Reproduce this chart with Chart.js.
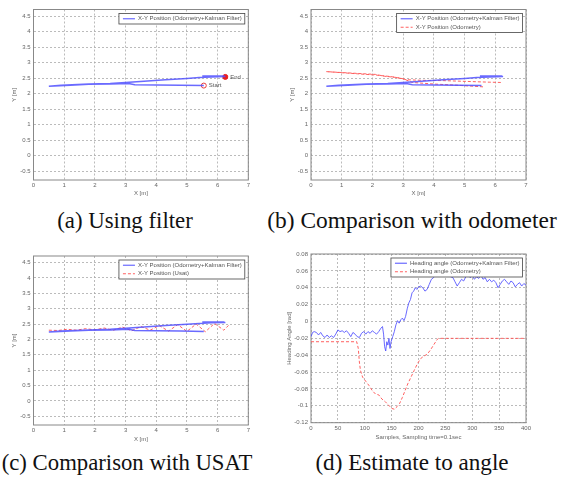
<!DOCTYPE html>
<html>
<head>
<meta charset="utf-8">
<script src="https://cdn.jsdelivr.net/npm/chart.js@4.4.1/dist/chart.umd.min.js"></script>
<style>
  body { margin: 0; background: #fff; width: 562px; height: 484px; position: relative; overflow: hidden; }
  .panel { position: absolute; }
  .cap { position: absolute; font-family: "Liberation Serif", "DejaVu Serif", serif; font-size: 23px; line-height: 23px;
         color: #111; white-space: nowrap; transform: translateX(-50%); }
</style>
</head>
<body>
<div class="panel" style="left:0;top:0;width:262px;height:200px"><canvas id="chartA"></canvas></div>
<div class="panel" style="left:278px;top:0;width:262px;height:200px"><canvas id="chartB"></canvas></div>
<div class="panel" style="left:0;top:246px;width:262px;height:200px"><canvas id="chartC"></canvas></div>
<div class="panel" style="left:278px;top:244px;width:262px;height:200px"><canvas id="chartD"></canvas></div>

<div class="cap" data-w="136" style="left:125px;top:209px">(a) Using filter</div>
<div class="cap" data-w="289" style="left:412px;top:209px">(b) Comparison with odometer</div>
<div class="cap" data-w="251" style="left:127px;top:451px">(c) Comparison with USAT</div>
<div class="cap" data-w="193" style="left:412px;top:451px">(d) Estimate to angle</div>

<script>
// X-Y track, odometry + Kalman filter
const filtX = [5.55, 4.8, 4.0, 3.3, 3.1, 2.5, 1.8, 1.2, 0.5, 0.9, 1.8, 2.5, 3.0, 3.6, 4.3, 5.0, 5.4, 5.8, 6.25, 5.5, 6.2, 6.25];
const filtY = [2.26, 2.27, 2.28, 2.29, 2.33, 2.31, 2.30, 2.27, 2.24, 2.27, 2.31, 2.33, 2.36, 2.40, 2.45, 2.49, 2.52, 2.54, 2.55, 2.57, 2.57, 2.54];

// X-Y track, odometry only
const odoX = [5.6, 4.8, 4.0, 3.3, 3.0, 2.6, 2.1, 1.5, 0.5, 1.0, 2.1, 2.4, 2.8, 3.1, 3.6, 4.3, 5.2, 5.8, 6.2];
const odoY = [2.22, 2.27, 2.31, 2.36, 2.48, 2.55, 2.60, 2.64, 2.71, 2.68, 2.62, 2.56, 2.52, 2.45, 2.43, 2.42, 2.39, 2.37, 2.36];

// X-Y track, USAT
const usatX = [0.5, 0.8, 1.1, 1.4, 1.7, 2.0, 2.3, 2.6, 2.9, 3.2, 3.5, 3.8, 4.1, 4.4, 4.7, 5.0, 5.3, 5.6, 5.9, 6.2, 6.4];
const usatY = [2.30, 2.29, 2.33, 2.30, 2.35, 2.31, 2.37, 2.30, 2.40, 2.28, 2.42, 2.30, 2.45, 2.27, 2.48, 2.26, 2.50, 2.25, 2.52, 2.30, 2.50];

const startPt = [5.55, 2.26];
const endPt = [6.25, 2.54];

const posXTicks = [0, 1, 2, 3, 4, 5, 6, 7];
const posYTicks = [-0.5, 0, 0.5, 1, 1.5, 2, 2.5, 3, 3.5, 4, 4.5];

// heading angle vs sample
const headFiltX = [0, 3, 6, 10, 14, 18, 22, 26, 30, 34, 38, 42, 46, 50, 54, 58, 62, 66, 70, 74, 78, 82, 86, 90, 94, 98,
  102, 106, 110, 114, 118, 122, 126, 130, 133, 135, 137, 139, 141, 143, 145, 147, 149, 152, 155, 158, 161, 164, 167, 170,
  173, 176, 179, 182, 185, 188, 191, 194, 197, 200, 204, 208, 212, 216, 220, 224, 228, 232, 236, 240, 244, 248, 252, 256,
  260, 264, 268, 272, 276, 280, 284, 288, 292, 296, 300, 304, 308, 312, 316, 320, 324, 328, 332, 336, 340, 344, 348, 352,
  356, 360, 364, 368, 372, 376, 380, 384, 388, 392, 396, 400];
const headFiltY = [-0.018, -0.013, -0.012, -0.013, -0.016, -0.013, -0.017, -0.019, -0.016, -0.019, -0.017, -0.019, -0.015,
  -0.010, -0.012, -0.011, -0.013, -0.011, -0.014, -0.018, -0.013, -0.015, -0.018, -0.019, -0.014, -0.012,
  -0.015, -0.012, -0.014, -0.011, -0.013, -0.015, -0.012, -0.008, -0.006, -0.015, -0.030, -0.035, -0.024, -0.028,
  -0.020, -0.032, -0.024, -0.018, -0.012, -0.004, 0.001, -0.002, 0.002, 0.004,
  0.001, 0.006, 0.015, 0.022, 0.026, 0.034, 0.036, 0.040, 0.038, 0.041, 0.042, 0.040, 0.036, 0.038, 0.044, 0.050, 0.052,
  0.056, 0.059, 0.057, 0.058, 0.056, 0.057, 0.055, 0.053, 0.052, 0.047, 0.042, 0.046, 0.050, 0.048, 0.053, 0.055, 0.052,
  0.054, 0.050, 0.053, 0.051, 0.055, 0.050, 0.052, 0.047, 0.050, 0.047, 0.049, 0.046, 0.040, 0.044, 0.048, 0.050, 0.047,
  0.044, 0.048, 0.046, 0.041, 0.044, 0.046, 0.042, 0.045, 0.043];

const headOdoX = [0, 85, 88, 90, 92, 96, 102, 108, 114, 120, 126, 132, 138, 144, 150, 155, 160, 165, 170, 175, 180, 186,
  192, 198, 204, 210, 216, 222, 228, 234, 237, 400];
const headOdoY = [-0.024, -0.024, -0.032, -0.048, -0.058, -0.066, -0.071, -0.076, -0.082, -0.086, -0.087, -0.092, -0.095,
  -0.099, -0.103, -0.104, -0.101, -0.097, -0.090, -0.082, -0.074, -0.066, -0.058, -0.050, -0.044, -0.041, -0.039,
  -0.034, -0.028, -0.022, -0.020, -0.020];

const headXTicks = [0, 50, 100, 150, 200, 250, 300, 350, 400];
const headYTicks = [-0.12, -0.1, -0.08, -0.06, -0.04, -0.02, 0, 0.02, 0.04, 0.06, 0.08];

const pts = (xs, ys) => xs.map((x, i) => ({x: x, y: ys[i]}));

const tickFont = {family: 'Liberation Sans', size: 6};
const blue = 'rgba(80,80,255,0.85)';
const red = 'rgba(255,80,80,0.9)';

// box round the plot area
const framePlugin = {
  id: 'frame',
  beforeDatasetsDraw(chart) {
    const a = chart.chartArea, c = chart.ctx;
    c.save();
    c.strokeStyle = '#888';
    c.lineWidth = 1;
    c.strokeRect(a.left, a.top, a.right - a.left, a.bottom - a.top);
    c.restore();
  }
};

// legend drawn inside the plot, top right, like matlab
const boxLegendPlugin = {
  id: 'boxLegend',
  afterDraw(chart) {
    const a = chart.chartArea, c = chart.ctx;
    const items = chart.data.datasets.filter(d => d.inLegend);
    c.save();
    c.font = '6px "Liberation Sans"';
    let tw = 0;
    items.forEach(d => { tw = Math.max(tw, c.measureText(d.label).width); });
    const rowH = 8.5;
    const w = tw + 22, h = items.length * rowH + 2;
    const x0 = a.right - 3.5 - w, y0 = a.top + 4;
    c.fillStyle = '#fff';
    c.fillRect(x0, y0, w, h);
    c.strokeStyle = '#444';
    c.lineWidth = 0.8;
    c.strokeRect(x0, y0, w, h);
    items.forEach((d, i) => {
      const yy = y0 + 1 + rowH * (i + 0.5);
      c.strokeStyle = d.borderColor;
      c.lineWidth = 1.2;
      c.setLineDash(d.borderDash || []);
      c.beginPath();
      c.moveTo(x0 + 4, yy);
      c.lineTo(x0 + 16, yy);
      c.stroke();
      c.setLineDash([]);
      c.fillStyle = '#555';
      c.textBaseline = 'middle';
      c.fillText(d.label, x0 + 19, yy);
    });
    c.restore();
  }
};

// "Start" / "End" labels next to the markers
const tagPlugin = {
  id: 'tags',
  afterDatasetsDraw(chart) {
    const c = chart.ctx;
    c.save();
    c.font = '6px "Liberation Sans"';
    c.fillStyle = '#555';
    c.textBaseline = 'middle';
    chart.data.datasets.forEach((d, i) => {
      if (!d.tag) return;
      const p = chart.getDatasetMeta(i).data[0];
      c.fillText(d.tag, p.x + 5, p.y);
    });
    c.restore();
  }
};

function makeChart(id, datasets, ax) {
  return new Chart(document.getElementById(id), {
    type: 'line',
    data: {datasets: datasets},
    options: {
      responsive: true,
      maintainAspectRatio: false,
      animation: false,
      events: [],
      layout: {padding: {top: ax.padTop, right: ax.padRight, left: 0, bottom: 0}},
      plugins: {legend: {display: false}, tooltip: {enabled: false}},
      elements: {point: {radius: 0}, line: {tension: 0}},
      scales: {
        x: {
          type: 'linear', min: ax.xMin, max: ax.xMax,
          afterBuildTicks: s => { s.ticks = ax.xTicks.map(v => ({value: v})); },
          afterFit: s => { s.height = ax.xHeight; },
          ticks: {font: tickFont, color: '#666', padding: 2, maxRotation: 0},
          grid: {color: '#aaa', lineWidth: 0.8, drawTicks: false},
          border: {display: false, dash: [2, 2]},
          title: {display: true, text: ax.xTitle, font: tickFont, color: '#666', padding: 3}
        },
        y: {
          type: 'linear', min: ax.yMin, max: ax.yMax,
          afterBuildTicks: s => { s.ticks = ax.yTicks.map(v => ({value: v})); },
          afterFit: s => { s.width = ax.yWidth; },
          ticks: {font: tickFont, color: '#666', padding: 3, callback: v => String(+v.toFixed(3))},
          grid: {color: '#aaa', lineWidth: 0.8, drawTicks: false},
          border: {display: false, dash: [2, 2]},
          title: {display: true, text: ax.yTitle, font: tickFont, color: '#666', padding: ax.yTitlePad}
        }
      }
    },
    plugins: [framePlugin, tagPlugin, boxLegendPlugin]
  });
}

const filtLabel = 'X-Y Position (Odometry+Kalman Filter)';
const filtLine = () => ({label: filtLabel, data: pts(filtX, filtY), borderColor: blue, borderWidth: 1.5, inLegend: true});
const markers = () => [
  {label: 'End', tag: 'End', data: [{x: endPt[0], y: endPt[1]}], showLine: false,
   pointRadius: 2.5, pointBackgroundColor: 'rgb(235,30,30)', pointBorderColor: 'rgb(235,30,30)'},
  {label: 'Start', tag: 'Start', data: [{x: startPt[0], y: startPt[1]}], showLine: false,
   pointRadius: 2.5, pointBackgroundColor: '#fff', pointBorderColor: 'rgb(235,60,60)', pointBorderWidth: 1}
];

const posAxes = (padTop, padRight, yWidth, xHeight) => ({
  xMin: 0, xMax: 7, xTicks: posXTicks, yMin: -0.78, yMax: 4.71, yTicks: posYTicks,
  xTitle: 'X [m]', yTitle: 'Y [m]', padTop, padRight, yWidth, xHeight, yTitlePad: 11
});

makeChart('chartA', [filtLine(), ...markers()], posAxes(9.5, 13.7, 33.5, 20));

makeChart('chartB', [
  filtLine(),
  {label: 'X-Y Position (Odometry)', data: pts(odoX, odoY), borderColor: red, borderWidth: 1, borderDash: [3, 2], inLegend: true}
], posAxes(9.5, 14, 33, 20));

makeChart('chartC', [
  filtLine(),
  {label: 'X-Y Position (Usat)', data: pts(usatX, usatY), borderColor: red, borderWidth: 1, borderDash: [3, 2], inLegend: true}
], posAxes(10, 13.7, 33.5, 21));

makeChart('chartD', [
  {label: 'Heading angle (Odometry+Kalman Filter)', data: pts(headFiltX, headFiltY), borderColor: blue, borderWidth: 1, inLegend: true},
  {label: 'Heading angle (Odometry)', data: pts(headOdoX, headOdoY), borderColor: red, borderWidth: 1, borderDash: [3, 2], inLegend: true}
], {
  xMin: 0, xMax: 400, xTicks: headXTicks, yMin: -0.12, yMax: 0.08, yTicks: headYTicks,
  xTitle: 'Samples, Sampling time=0.1sec', yTitle: 'Heading Angle [rad]',
  padTop: 10, padRight: 14, yWidth: 33, xHeight: 21.3, yTitlePad: 8
});

// squeeze each caption to the width it has in the figure
document.querySelectorAll('.cap').forEach(el => {
  const s = +el.dataset.w / el.offsetWidth;
  el.style.transform = 'translateX(-50%) scaleX(' + s.toFixed(3) + ')';
});
</script>
</body>
</html>
